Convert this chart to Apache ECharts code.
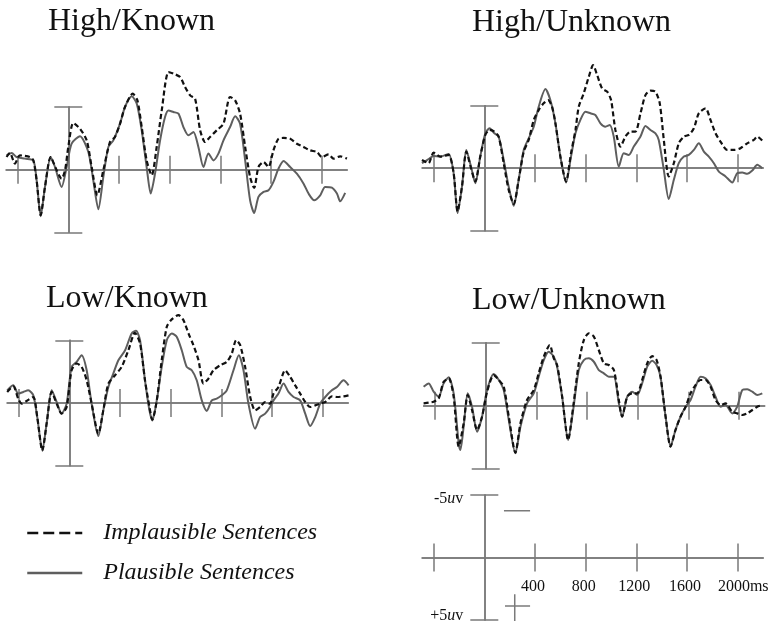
<!DOCTYPE html>
<html><head><meta charset="utf-8">
<script src="https://cdn.jsdelivr.net/npm/echarts@6/dist/echarts.min.js"></script>
<style>html,body{margin:0;padding:0;background:#fff}#c{width:774px;height:629px}</style>
</head><body><div id="c"></div>
<script>
// ---------- DATA ----------
const panelTitles = ['High/Known', 'High/Unknown', 'Low/Known', 'Low/Unknown'];
const seriesNames = ['Implausible Sentences', 'Plausible Sentences'];
const xTicks = [-400, 400, 800, 1200, 1600, 2000];
const xTickLabels = [400, 800, 1200, 1600, 2000];
const yScaleTicks = [-5, 5];
const xUnit = 'ms';

// [time ms, amplitude uV] (negative plotted up)
const hkImpl = [[-487,-1.01],[-461,-1.33],[-421,-0.48],[-382,-1.14],[-303,-1.01],[-276,-0.74],[-250,0.85],[-218,3.64],[-184,1.38],[-139,-1.01],[-92,0.05],[-53,0.72],[-26,0.05],[0,-1.81],[39,-3.72],[92,-3.27],[145,-2.34],[184,-0.21],[229,2.05],[276,0.05],[329,-2.21],[368,-2.61],[408,-3.67],[447,-5.0],[508,-6.06],[545,-5.53],[579,-3.40],[618,-0.74],[658,0.45],[697,-1.81],[737,-4.73],[790,-7.79],[829,-7.66],[882,-7.39],[921,-6.60],[961,-5.93],[1000,-5.66],[1040,-3.14],[1079,-2.21],[1118,-2.61],[1171,-3.14],[1224,-3.67],[1276,-5.80],[1316,-5.53],[1355,-4.47],[1395,-1.81],[1434,0.59],[1466,1.46],[1500,-0.21],[1540,-0.61],[1579,-0.21],[1618,-1.54],[1658,-2.47],[1698,-2.53],[1750,-2.47],[1803,-2.07],[1856,-1.81],[1908,-1.54],[1961,-1.41],[2000,-1.01],[2053,-1.22],[2092,-0.88],[2145,-1.06],[2198,-0.88]];
const hkPlaus = [[-487,-1.14],[-447,-1.33],[-408,-1.01],[-342,-0.88],[-276,-0.74],[-250,0.85],[-218,3.72],[-184,1.38],[-139,-1.01],[-105,-0.21],[-53,1.38],[-13,-0.21],[26,-2.07],[92,-2.66],[158,-1.41],[197,0.85],[237,3.16],[276,0.59],[316,-1.81],[355,-2.34],[408,-3.67],[447,-5.0],[500,-5.85],[540,-5.27],[579,-3.14],[618,-0.21],[650,1.91],[684,0.32],[724,-2.34],[763,-4.20],[790,-4.73],[829,-4.60],[869,-4.47],[908,-3.40],[947,-2.74],[987,-3.01],[1026,-1.81],[1066,-0.21],[1105,-1.28],[1145,-0.74],[1184,-1.28],[1224,-2.34],[1276,-3.40],[1316,-4.26],[1355,-3.67],[1395,-0.74],[1434,2.45],[1466,3.46],[1500,2.18],[1540,1.78],[1579,1.65],[1618,0.98],[1658,-0.08],[1698,-0.69],[1750,-0.21],[1803,0.32],[1856,1.12],[1895,1.91],[1940,2.45],[1987,2.05],[2026,1.38],[2079,1.44],[2119,1.91],[2145,2.53],[2184,1.86]];

const huImpl = [[-492,-0.66],[-440,-0.40],[-400,-1.25],[-347,-0.93],[-282,-1.06],[-242,0.40],[-211,3.46],[-176,1.46],[-142,-1.33],[-105,0.00],[-71,1.06],[-32,-0.93],[8,-2.66],[42,-3.06],[79,-2.93],[113,-2.53],[153,-0.40],[192,1.73],[232,2.85],[271,0.93],[311,-1.33],[350,-2.26],[390,-3.86],[429,-4.65],[468,-5.19],[503,-5.45],[534,-4.92],[561,-3.59],[600,-0.93],[645,1.06],[684,-1.20],[719,-3.06],[745,-4.92],[784,-5.98],[824,-7.31],[858,-8.24],[890,-7.45],[929,-6.38],[969,-6.12],[1000,-5.45],[1034,-3.06],[1074,-1.73],[1113,-2.53],[1153,-2.93],[1192,-2.93],[1232,-4.39],[1271,-5.85],[1311,-6.20],[1350,-6.12],[1384,-5.19],[1416,-2.26],[1455,0.66],[1495,-0.40],[1534,-1.99],[1574,-2.53],[1613,-2.66],[1653,-3.19],[1692,-4.39],[1745,-4.79],[1784,-3.86],[1824,-2.79],[1863,-2.13],[1916,-1.46],[1969,-1.46],[2021,-1.60],[2074,-1.99],[2126,-2.26],[2153,-2.53],[2192,-2.21]];
const huPlaus = [[-492,-0.40],[-440,-0.72],[-400,-0.98],[-347,-0.93],[-282,-1.14],[-242,0.40],[-211,3.59],[-176,1.46],[-142,-1.46],[-105,-0.13],[-71,1.20],[-32,-0.93],[8,-2.79],[42,-3.19],[79,-2.79],[113,-2.53],[153,-0.66],[192,1.46],[232,3.01],[271,0.93],[311,-1.46],[350,-2.39],[390,-3.32],[429,-4.92],[482,-6.33],[521,-5.45],[561,-3.59],[600,-0.93],[645,1.14],[684,-0.93],[719,-2.79],[758,-3.86],[797,-4.52],[837,-4.39],[876,-4.26],[916,-3.59],[955,-3.32],[990,-3.46],[1021,-2.53],[1061,-0.13],[1100,-1.20],[1140,-1.06],[1179,-1.73],[1232,-2.53],[1271,-3.38],[1311,-3.06],[1350,-2.79],[1376,-2.26],[1416,0.13],[1455,2.47],[1495,0.93],[1534,-0.40],[1574,-0.93],[1613,-1.06],[1653,-1.46],[1692,-1.99],[1732,-1.33],[1771,-0.93],[1811,-0.40],[1850,0.27],[1903,0.66],[1956,1.14],[1995,0.40],[2035,0.35],[2074,0.45],[2114,0.19],[2153,-0.27],[2192,0.00]];

const lkImpl = [[-490,-0.88],[-442,-1.33],[-403,-0.35],[-376,0.05],[-337,-0.16],[-284,-0.48],[-253,1.12],[-213,3.79],[-179,1.65],[-139,-0.88],[-100,0.05],[-61,0.85],[-21,0.32],[18,-2.61],[58,-3.15],[97,-2.88],[137,-1.81],[176,0.05],[229,2.45],[268,0.59],[308,-1.55],[361,-2.21],[413,-2.88],[466,-4.21],[518,-5.60],[558,-4.75],[597,-1.81],[632,0.32],[655,1.33],[690,-0.21],[729,-3.41],[769,-6.08],[808,-6.67],[861,-7.01],[900,-6.61],[940,-5.55],[979,-4.61],[1019,-3.41],[1058,-1.55],[1098,-1.95],[1137,-2.61],[1190,-3.01],[1242,-3.28],[1282,-3.95],[1316,-5.01],[1348,-4.61],[1387,-2.88],[1427,-0.48],[1466,0.59],[1505,0.32],[1545,-0.08],[1584,0.05],[1611,-0.75],[1650,-1.28],[1703,-2.61],[1742,-2.08],[1782,-1.41],[1821,-0.75],[1861,-0.08],[1900,0.32],[1940,0.19],[1979,0.05],[2019,-0.08],[2071,-0.53],[2111,-0.48],[2163,-0.53],[2203,-0.61]];
const lkPlaus = [[-490,-1.01],[-442,-1.41],[-403,-0.75],[-363,-0.88],[-324,-1.01],[-284,-0.61],[-253,1.12],[-213,3.79],[-179,1.65],[-139,-1.01],[-100,-0.08],[-61,0.85],[-21,0.05],[18,-2.88],[58,-3.28],[97,-3.81],[137,-2.61],[176,0.05],[229,2.64],[268,0.59],[308,-1.28],[347,-2.35],[387,-3.41],[440,-4.21],[492,-5.55],[526,-5.76],[558,-5.01],[597,-1.81],[632,0.59],[655,1.39],[690,-0.21],[729,-2.88],[769,-5.01],[808,-5.55],[847,-5.28],[887,-4.21],[926,-2.88],[966,-2.61],[1005,-1.81],[1045,-0.21],[1084,0.64],[1124,-0.21],[1163,-0.35],[1203,-0.61],[1242,-1.01],[1295,-2.61],[1337,-3.81],[1374,-2.61],[1413,0.05],[1466,2.05],[1505,1.12],[1545,0.85],[1584,0.32],[1611,-0.21],[1650,-0.75],[1690,-1.55],[1729,-0.88],[1769,-0.48],[1821,-0.21],[1861,0.85],[1900,1.84],[1940,1.12],[1979,0.05],[2019,-0.48],[2071,-1.01],[2111,-1.28],[2163,-1.81],[2203,-1.41]];

const luImpl = [[-490,-0.19],[-450,-0.24],[-411,-0.32],[-371,-0.58],[-332,-1.90],[-292,-2.17],[-253,-0.71],[-213,3.25],[-174,1.40],[-142,-0.85],[-108,0.34],[-68,1.93],[-29,0.87],[11,-1.11],[63,-2.43],[103,-2.04],[142,-1.51],[182,0.87],[234,3.73],[274,1.40],[326,-0.45],[379,-1.24],[418,-2.57],[458,-3.89],[505,-4.81],[537,-3.76],[563,-3.23],[603,-0.71],[650,2.72],[690,0.08],[734,-3.36],[774,-5.21],[813,-5.74],[853,-5.48],[892,-4.42],[932,-3.36],[971,-3.23],[1011,-2.83],[1050,-0.45],[1076,0.87],[1116,-0.71],[1155,-0.98],[1195,-0.98],[1234,-2.04],[1274,-3.36],[1313,-3.94],[1348,-3.62],[1379,-2.30],[1419,0.87],[1458,3.25],[1497,1.93],[1537,0.87],[1577,0.08],[1616,-0.98],[1655,-1.64],[1695,-2.04],[1734,-2.04],[1774,-1.51],[1813,-0.45],[1853,-0.05],[1892,-0.19],[1945,0.48],[1984,0.61],[2024,0.74],[2063,0.61],[2103,0.34],[2142,0.08],[2182,-0.05]];
const luPlaus = [[-490,-1.51],[-450,-1.77],[-411,-1.11],[-371,-0.71],[-332,-1.77],[-292,-2.25],[-253,-0.98],[-213,2.99],[-200,3.52],[-174,1.67],[-142,-0.98],[-108,0.08],[-68,2.06],[-29,0.87],[11,-1.24],[63,-2.51],[103,-2.04],[142,-1.24],[182,1.14],[234,3.78],[274,1.67],[326,-0.19],[379,-0.98],[418,-2.30],[458,-3.62],[497,-4.29],[537,-3.89],[563,-3.10],[603,-0.71],[650,2.72],[690,0.34],[734,-2.83],[774,-3.62],[813,-3.76],[853,-3.49],[892,-2.83],[932,-2.57],[971,-2.30],[1011,-2.30],[1050,-0.19],[1076,0.87],[1116,-0.71],[1155,-1.11],[1195,-0.85],[1234,-1.77],[1274,-3.10],[1313,-3.57],[1348,-3.23],[1379,-2.30],[1419,0.87],[1458,3.25],[1497,1.93],[1537,0.87],[1577,0.08],[1616,-0.45],[1655,-1.51],[1695,-2.30],[1734,-2.17],[1774,-1.64],[1813,-0.71],[1853,0.08],[1892,-0.05],[1945,0.61],[1984,0.08],[2024,-1.24],[2063,-1.30],[2103,-1.11],[2142,-0.85],[2182,-0.98]];

// small marks in the scale panel
const scaleMarkDash = [[155,-3.74],[361,-3.74]];
const scaleMarkPlusH = [[163,3.87],[361,3.87]];
const scaleMarkPlusV = [[240,2.94],[240,5.07]];

const implData = [hkImpl, huImpl, lkImpl, luImpl];
const plausData = [hkPlaus, huPlaus, lkPlaus, luPlaus];

// ---------- LAYOUT / STYLE ----------
const FONT = '"Liberation Serif","Times New Roman",serif';
const AX = '#7a7a7a';
const grids = [
  {left: 6.2,   top: 107,   width: 341, height: 125.3},
  {left: 422.2, top: 105.7, width: 341, height: 125},
  {left: 7.2,   top: 340.3, width: 341, height: 125.4},
  {left: 423.6, top: 342.7, width: 341, height: 126},
  {left: 422.2, top: 495,   width: 341, height: 125},
  // label-only grids for the scale panel (left edge at time 0)
  {left: 484.3, top: 495,   width: 278.8, height: 125},
  {left: 484.3, top: 495,   width: 278.8, height: 63.3}
].map(g => Object.assign({outerBoundsMode: 'none', containLabel: false}, g));
const titlePos = [[48, 6], [472, 6.7], [46, 283], [472, 284.5]];

function xAx(gi, pos) {
  return {
    type: 'value', gridIndex: gi, position: pos, min: -490, max: 2200,
    axisLine: {show: true, onZero: true, lineStyle: {color: AX, width: 1.5}},
    axisTick: {show: true, customValues: xTicks, length: 14, inside: false, lineStyle: {color: AX, width: 1.5}},
    axisLabel: {show: false},
    splitLine: {show: false}
  };
}
function yAx(gi, pos) {
  return {
    type: 'value', gridIndex: gi, position: pos, min: -5, max: 5, inverse: true,
    axisLine: {show: true, onZero: true, lineStyle: {color: AX, width: 1.5}},
    axisTick: {show: true, customValues: yScaleTicks, length: 14, inside: false, lineStyle: {color: AX, width: 1.5}},
    axisLabel: {show: false},
    splitLine: {show: false}
  };
}
const hidden = {axisLine: {show: false}, axisTick: {show: false}, splitLine: {show: false}};

const xAxes = [], yAxes = [];
for (let i = 0; i < 5; i++) {
  xAxes.push(xAx(i, 'bottom'));
  xAxes.push(xAx(i, 'top'));
  yAxes.push(yAx(i, 'left'));
  yAxes.push(yAx(i, 'right'));
}
const labFont = {fontFamily: FONT, fontSize: 16, color: '#111'};
// grid 5: y labels (-5uv / +5uv)
xAxes.push(Object.assign({type: 'value', gridIndex: 5, min: 0, max: 2200, axisLabel: {show: false}}, hidden));
yAxes.push(Object.assign({
  type: 'value', gridIndex: 5, position: 'left', min: -5, max: 5, inverse: true,
  axisLabel: Object.assign({
    show: true, customValues: yScaleTicks, margin: 21,
    formatter: v => v < 0
      ? '{dn|-' + Math.abs(v) + '}{dni|u}{dn|v}'
      : '{up|+' + Math.abs(v) + '}{upi|u}{up|v}',
    rich: {
      dn: Object.assign({padding: [8, 0, 0, 0]}, labFont),
      dni: Object.assign({padding: [8, 0, 0, 0], fontStyle: 'italic'}, labFont),
      up: Object.assign({padding: [0, 0, 8, 0]}, labFont),
      upi: Object.assign({padding: [0, 0, 8, 0], fontStyle: 'italic'}, labFont)
    }
  }, labFont)
}, hidden));
// grid 6: x labels (bottom edge = baseline)
xAxes.push(Object.assign({
  type: 'value', gridIndex: 6, position: 'bottom', min: 0, max: 2200,
  axisLabel: Object.assign({
    show: true, customValues: xTickLabels, margin: 20, padding: [0, 4, 0, 0],
    formatter: v => v === xTickLabels[xTickLabels.length - 1] ? '{sp|}' + v + '{u|' + xUnit + '}' : String(v),
    rich: {sp: Object.assign({width: 15}, labFont), u: labFont}
  }, labFont)
}, hidden));
yAxes.push(Object.assign({type: 'value', gridIndex: 6, min: -5, max: 0, axisLabel: {show: false}}, hidden));

const series = [];
for (let i = 0; i < 4; i++) {
  series.push({
    type: 'line', name: seriesNames[1], xAxisIndex: 2 * i, yAxisIndex: 2 * i,
    data: plausData[i], symbol: 'none', smooth: 0.25, clip: false, z: 3,
    color: '#5e5e5e', lineStyle: {color: '#5e5e5e', width: 2}
  });
  series.push({
    type: 'line', name: seriesNames[0], xAxisIndex: 2 * i, yAxisIndex: 2 * i,
    data: implData[i], symbol: 'none', smooth: 0.25, clip: false, z: 4,
    color: '#111', lineStyle: {color: '#111', width: 2.2, type: [5, 3]}
  });
}
[scaleMarkDash, scaleMarkPlusH, scaleMarkPlusV].forEach(d => {
  series.push({
    type: 'line', name: 'mark', xAxisIndex: 8, yAxisIndex: 8, data: d,
    symbol: 'none', clip: false, silent: true, lineStyle: {color: AX, width: 1.5}
  });
});

const chart = echarts.init(document.getElementById('c'), null, {renderer: 'canvas'});
chart.setOption({
  backgroundColor: '#fff',
  animation: false,
  title: panelTitles.map((t, i) => ({
    text: t, left: titlePos[i][0], top: titlePos[i][1], padding: 0,
    textStyle: {fontFamily: FONT, fontSize: 32, fontWeight: 'normal', color: '#111'}
  })),
  legend: {
    left: 26, top: 520, padding: 0, orient: 'vertical',
    itemWidth: 55, itemHeight: 26, itemGap: 14, selectedMode: false,
    itemStyle: {opacity: 0},
    data: [
      {name: seriesNames[0], lineStyle: {type: [11, 5], width: 2.5, color: '#111'}, itemStyle: {opacity: 0}},
      {name: seriesNames[1], lineStyle: {width: 2.5, color: '#5e5e5e'}, itemStyle: {opacity: 0}}
    ],
    textStyle: {fontFamily: FONT, fontStyle: 'italic', fontSize: 24, lineHeight: 26, color: '#111', padding: [0, 0, 0, 16]}
  },
  grid: grids,
  xAxis: xAxes,
  yAxis: yAxes,
  series: series
});
</script>
</body></html>
